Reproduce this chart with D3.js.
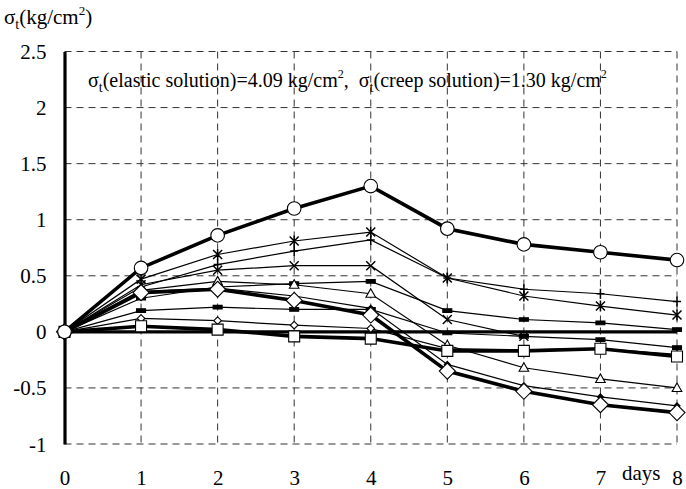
<!DOCTYPE html>
<html>
<head>
<meta charset="utf-8">
<script src="https://cdn.jsdelivr.net/npm/d3@7"></script>
</head>
<body style="margin:0; background:#fff">
<script>
// ----------------------------------------
//  Data
// ----------------------------------------
var days = [0, 1, 2, 3, 4, 5, 6, 7, 8];
var yTicks = [-1, -0.5, 0, 0.5, 1, 1.5, 2, 2.5];
var yTickLabels = ["-1", "-0.5", "0", "0.5", "1", "1.5", "2", "2.5"];

var circleVals    = [0, 0.57, 0.86, 1.10, 1.30, 0.92, 0.78, 0.71, 0.64];
var starVals      = [0, 0.47, 0.69, 0.81, 0.89, 0.48, 0.32, 0.23, 0.15];
var plusVals      = [0, 0.40, 0.60, 0.72, 0.82, 0.48, 0.38, 0.34, 0.27];
var crossVals     = [0, 0.42, 0.55, 0.59, 0.59, 0.11, -0.04, null, null];
var dashUpVals    = [0, 0.30, 0.40, 0.43, 0.45, 0.19, 0.11, 0.08, 0.02];
var triangleVals  = [0, 0.37, 0.45, 0.42, 0.34, -0.12, -0.32, -0.42, -0.50];
var dotDiaVals    = [0, 0.36, 0.39, 0.32, 0.21, -0.29, -0.48, -0.58, -0.66];
var dashLowVals   = [0, 0.19, 0.22, 0.20, 0.20, -0.01, -0.04, -0.07, -0.14];
var smallDiaVals  = [0, 0.12, 0.10, 0.06, 0.03, -0.15, -0.16, -0.15, -0.20];
var bigDiaVals    = [0, 0.35, 0.38, 0.28, 0.15, -0.35, -0.53, -0.65, -0.72];
var squareVals    = [0, 0.05, 0.02, -0.04, -0.06, -0.17, -0.17, -0.15, -0.22];

var FONT = "Liberation Serif";

function serif(sel, size) {
  return sel.attr("font-family", FONT)
    .style("font-family", "'" + FONT + "', serif")
    .attr("font-size", size)
    .style("font-size", size + "px");
}

// ----------------------------------------
//  Chart setup
// ----------------------------------------
var W = 686, H = 489;
var svg = d3.select("body").append("svg")
    .attr("width", W)
    .attr("height", H)
    .attr("font-family", FONT);

var x = d3.scaleLinear().domain([0, 8]).range([64.5, 677]);
var y = d3.scaleLinear().domain([-1, 2.5]).range([444, 51.5]);

// grid lines
svg.append("g")
  .selectAll("line")
  .data(days.slice(1))
  .enter().append("line")
    .attr("x1", function(d) { return x(d); })
    .attr("x2", function(d) { return x(d); })
    .attr("y1", y(2.5)).attr("y2", y(-1))
    .attr("stroke", "#333").attr("stroke-width", 1)
    .attr("stroke-dasharray", "7,5");

svg.append("g")
  .selectAll("line")
  .data(yTicks.filter(function(d) { return d !== 0; }))
  .enter().append("line")
    .attr("x1", x(0)).attr("x2", x(8))
    .attr("y1", function(d) { return y(d); })
    .attr("y2", function(d) { return y(d); })
    .attr("stroke", "#333").attr("stroke-width", 1)
    .attr("stroke-dasharray", "7,5");

// y axis (thick line + labels); labels placed with y, not dy
var yAxis = svg.append("g")
    .attr("transform", "translate(" + x(0) + ",0)")
    .call(d3.axisLeft(y).tickValues(yTicks).tickSize(0).tickPadding(18)
      .tickFormat(function(d, i) { return yTickLabels[i]; }));
serif(yAxis, 21);
yAxis.select(".domain").attr("stroke", "#000").attr("stroke-width", 3.2);
serif(yAxis.selectAll("text"), 21)
    .attr("fill", "#000").attr("dy", null).attr("y", 7);

// x axis line at zero
svg.append("line")
    .attr("x1", x(0)).attr("x2", x(8))
    .attr("y1", y(0)).attr("y2", y(0))
    .attr("stroke", "#000").attr("stroke-width", 3.2);

// x tick labels at the bottom
var xAxis = svg.append("g")
    .attr("transform", "translate(0," + y(-1) + ")")
    .call(d3.axisBottom(x).tickValues(days).tickSize(0)
      .tickFormat(d3.format("d")));
serif(xAxis, 21);
xAxis.select(".domain").remove();
serif(xAxis.selectAll("text"), 21)
    .attr("fill", "#000").attr("dy", null).attr("y", 41);

serif(svg.append("text"), 21)
    .attr("x", 622).attr("y", 480)
    .text("days");

// ----------------------------------------
//  Markers
// ----------------------------------------
function markerPath(type) {
  switch (type) {
    case "circle":   return d3.symbol(d3.symbolCircle, 145)();
    case "square":   return "M-5.5,-5.5H5.5V5.5H-5.5Z";
    case "bigDia":   return "M0,-8L8,0L0,8L-8,0Z";
    case "smallDia": return "M0,-3.8L3.8,0L0,3.8L-3.8,0Z";
    case "dotDia":   return "M0,-3L3,0L0,3L-3,0Z";
    case "triangle": return "M0,-5L4.8,3.5L-4.8,3.5Z";
    case "dash":     return "M-4.5,-1.8H4.5V1.8H-4.5Z";
    case "plus":     return "M0,-5V5M-4,0H4";
    case "cross":    return "M-4.5,-4.5L4.5,4.5M-4.5,4.5L4.5,-4.5";
    case "star":     return "M-4.5,-4.5L4.5,4.5M-4.5,4.5L4.5,-4.5M0,-5.5V5.5";
  }
}

var series = [
  { vals: smallDiaVals, marker: "smallDia", thick: false },
  { vals: dashLowVals,  marker: "dash",     thick: false },
  { vals: crossVals,    marker: "cross",    thick: false },
  { vals: dashUpVals,   marker: "dash",     thick: false },
  { vals: triangleVals, marker: "triangle", thick: false },
  { vals: plusVals,     marker: "plus",     thick: false },
  { vals: starVals,     marker: "star",     thick: false },
  { vals: dotDiaVals,   marker: "dotDia",   thick: false },
  { vals: bigDiaVals,   marker: "bigDia",   thick: true },
  { vals: squareVals,   marker: "square",   thick: true },
  { vals: circleVals,   marker: "circle",   thick: true }
];

var line = d3.line()
    .defined(function(d) { return d.v !== null; })
    .x(function(d) { return x(d.day); })
    .y(function(d) { return y(d.v); });

series.forEach(function(s) {
  var pts = days.map(function(d, i) { return { day: d, v: s.vals[i] }; });
  var g = svg.append("g");
  g.append("path")
      .attr("d", line(pts))
      .attr("fill", "none")
      .attr("stroke", "#000")
      .attr("stroke-width", s.thick ? 3.6 : 1.2);
  var filled = (s.marker === "dash" || s.marker === "dotDia");
  var open = (s.marker === "plus" || s.marker === "cross" || s.marker === "star");
  g.selectAll("path.mk")
    .data(pts.filter(function(p) { return p.v !== null; }))
    .enter().append("path")
      .attr("class", "mk")
      .attr("transform", function(p) { return "translate(" + x(p.day) + "," + y(p.v) + ")"; })
      .attr("d", markerPath(s.marker))
      .attr("fill", open ? "none" : (filled ? "#000" : "#fff"))
      .attr("stroke", "#000")
      .attr("stroke-width", open ? 1.5 : 1.1);
});

// ----------------------------------------
//  Texts (sigma with subscript t, cm with superscript 2)
//  tspans use absolute y instead of dy
// ----------------------------------------
function richText(x0, base, size, parts) {
  var t = serif(svg.append("text"), size).attr("x", x0).attr("y", base);
  parts.forEach(function(p) {
    var kind = p[1];
    var sz = kind === "sub" ? Math.round(size * 0.68) : kind === "sup" ? Math.round(size * 0.62) : size;
    var yy = kind === "sub" ? base + 5 : kind === "sup" ? base - 9 : base;
    serif(t.append("tspan"), sz).attr("y", yy).text(p[0]);
  });
  return t;
}

richText(4, 24, 21, [
  ["\u03c3", "n"], ["t", "sub"], ["(kg/cm", "n"], ["2", "sup"], [")", "n"]
]);

richText(88, 87, 20, [
  ["\u03c3", "n"], ["t", "sub"], ["(elastic solution)=4.09 kg/cm", "n"], ["2", "sup"],
  [",\u00a0 \u03c3", "n"], ["t", "sub"], ["(creep solution)=1.30 kg/cm", "n"], ["2", "sup"]
]);
</script>
</body>
</html>
